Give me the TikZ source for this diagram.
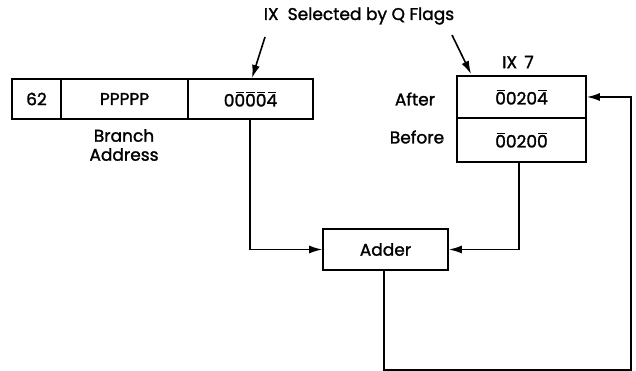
\documentclass[tikz,border=0pt]{standalone}
\usepackage{fontspec}
\setmainfont{Poppins}[FakeBold=1.5]
\usepackage{tikz}
\usetikzlibrary{arrows.meta,positioning,calc}

\newcommand{\barred}[1]{\leavevmode\begingroup\setbox0\hbox{#1}%
  \vbox{\offinterlineskip\hbox to\wd0{\hss\vrule width\dimexpr\wd0-2.5pt\relax height 1pt depth 0pt\hss}\kern1.5pt\box0}\endgroup}

\begin{document}
\begin{tikzpicture}[x=1pt,y=-1pt,>={Latex[length=13pt,width=8pt]},line width=1.6pt,
    field/.style={draw,rectangle,minimum height=40pt,inner sep=0pt,font=\fontsize{17}{20}\selectfont},
    tag/.style={inner sep=0pt,font=\fontsize{17}{19}\selectfont},
    flow/.style={draw,->}]
        \useasboundingbox (0,0) rectangle (636,371);
        % instruction word
        \node [field,minimum width=49pt] (opcode) at (36.5,99) {62};
        \node [field,minimum width=127pt] (addr) at (124.5,99) {PPPPP};
        \node [field,minimum width=125pt] (ixpart) at (250.5,99) {0\barred{0}\barred{0}\barred{0}\barred{4}};
        \node [tag,align=center] (branch) at (124,145) {Branch\\Address};
        % index register 7
        \node [field,minimum width=129pt,minimum height=42pt] (after) at (521.5,97) {\barred{0}020\barred{4}};
        \node [field,minimum width=129pt,minimum height=44pt] (before) at (521.5,140) {\barred{0}020\barred{0}};
        \node [tag] (afterlbl) at (415,99) {After};
        \node [tag] (beforelbl) at (417,137) {Before};
        \node [tag] (ixseven) at (518,62) {IX\, 7};
        \node [field,minimum width=125pt,minimum height=41pt] (adder) at (385.5,249.5) {Adder};
        % selection note
        \node [tag] (qflags) at (359,16) {IX\ \ Selected by Q Flags};
        \coordinate (qa) at (265,37);
        \coordinate (qb) at (452,35);
        \draw [->] (qa) -- (252,78);
        \draw [->] (qb) -- (471,74);
        % data paths
        \draw [flow] (ixpart.south -| 250,0) |- (adder.west);
        \draw [flow] (before.south -| 519,0) |- (adder.east);
        \coordinate (loop) at (631,370);
        \draw [flow] (adder.south -| 384,0) |- (loop) |- (after.east);
        \end{tikzpicture}
\end{document}
